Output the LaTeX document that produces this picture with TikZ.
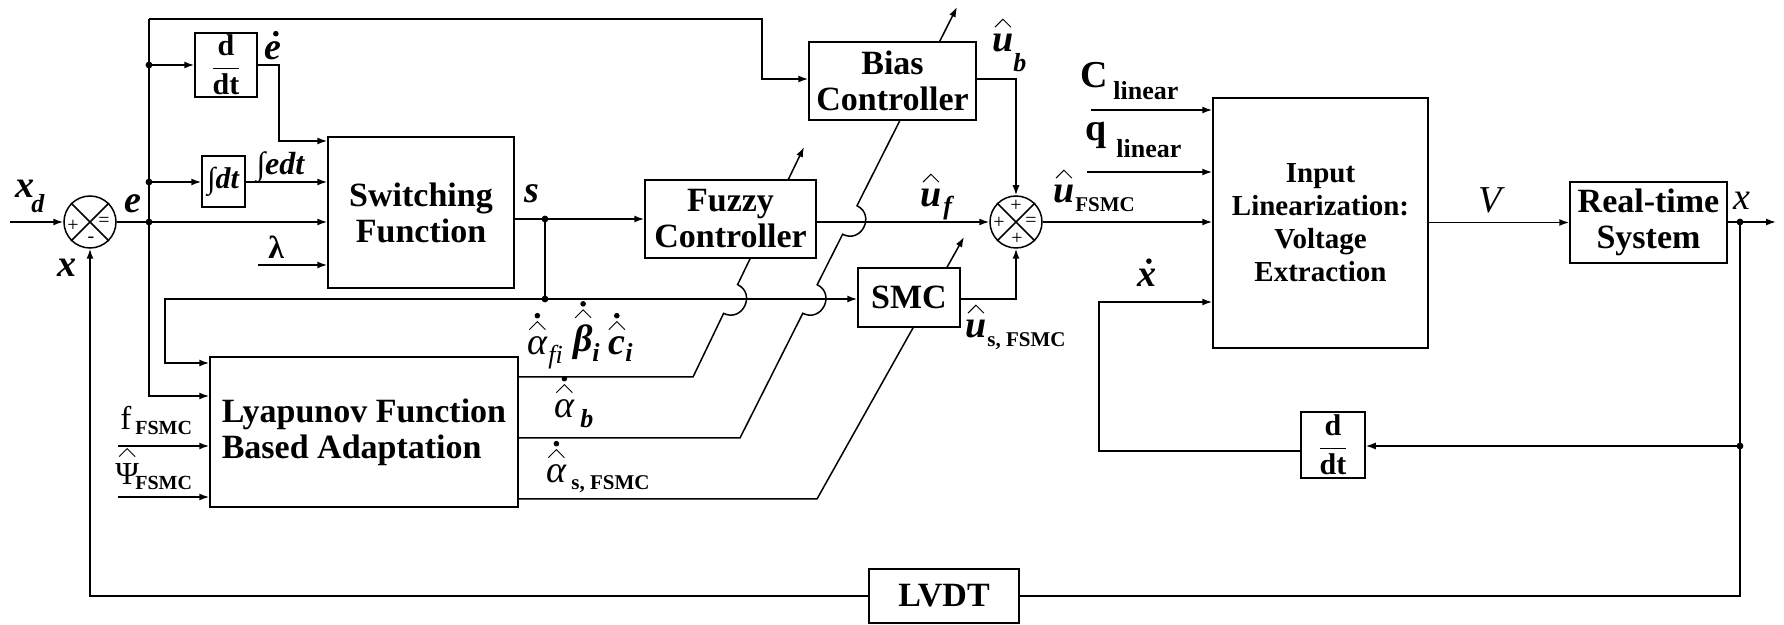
\documentclass[tikz,border=0pt]{standalone}
\usepackage{fontspec}
\setmainfont{Liberation Serif}
\usetikzlibrary{arrows.meta,calc}
\pgfdeclarelayer{bg}\pgfsetlayers{bg,main}
\newcommand\bxf{\fontsize{17}{18}\selectfont\bfseries}
\newcommand\ilf{\fontsize{14.5}{16.5}\selectfont\bfseries}
\newcommand\labf{\fontsize{19}{20}\selectfont\bfseries\itshape}
\newcommand\subf{\fontsize{13}{14}\selectfont\bfseries\itshape}
\newcommand\fsf{\fontsize{10.5}{12}\selectfont\bfseries}
\newcommand\hatnode[1]{\draw[hatst] ($(#1.north)+(-8,-7)$) -- ++(8,-8) -- ++(8,8);}
\newcommand\dotnode[2]{\fill ($(#1.north)+#2$) circle (1.4pt);}
\begin{document}
\begin{tikzpicture}[x=0.5pt,y=-0.5pt,line width=0.75pt,
  blk/.style={draw,fill=white,inner sep=0pt,align=center,font=\bxf},
  arr/.style={-{Latex[length=5pt,width=3.5pt]}},
  adap/.style={arr,line width=0.75pt},
  dotn/.style={circle,fill,inner sep=0pt,minimum size=3.4pt},
  sumc/.style={circle,draw,fill=white,inner sep=0pt,minimum size=26pt},
  sgn/.style={inner sep=0pt,font=\fontsize{10}{10}\selectfont},
  hatst/.style={line width=0.45pt},
  lbl/.style={inner sep=0pt,anchor=base west,font=\labf},
  lsub/.style={inner sep=0pt,anchor=base west,font=\subf},
  lfs/.style={inner sep=0pt,anchor=base west,font=\fsf}]
\useasboundingbox (0,0) rectangle (1784,625);
% blocks
\node[blk,minimum width=31pt,minimum height=32pt] (d1) at (226,65) {};
\node[inner sep=0pt,font=\fontsize{15}{16}\selectfont\bfseries] (d1t) at (d1.center) {$\displaystyle\frac{\hbox{d}}{\hbox{dt}}$};
\node[blk,minimum width=21.5pt,minimum height=25.5pt] (i1) at (223.5,181.5) {};
\node[inner sep=0pt,font=\fontsize{15}{16}\selectfont\bfseries] (i1t) at (i1.center) {∫\textit{dt}};
\node[blk,minimum width=93pt,minimum height=75.5pt] (sf) at (421,212.5) {Switching\\Function};
\node[blk,minimum width=85.5pt,minimum height=39pt] (fz) at (730.5,219) {Fuzzy\\Controller};
\node[blk,minimum width=83.5pt,minimum height=39pt] (bc) at (892.5,81) {Bias\\Controller};
\node[blk,minimum width=51pt,minimum height=29.5pt] (smc) at (909,297.5) {SMC};
\node[blk,minimum width=154pt,minimum height=75pt,align=left] (ly) at (364,432) {Lyapunov Function\\Based Adaptation};
\node[blk,minimum width=107.5pt,minimum height=125pt,font=\ilf] (il) at (1320.5,223) {Input\\Linearization:\\Voltage\\Extraction};
\node[blk,minimum width=78.5pt,minimum height=40.5pt] (rt) at (1648.5,222.5) {Real-time\\System};
\node[blk,minimum width=32pt,minimum height=33pt] (d2) at (1333,445) {};
\node[inner sep=0pt,font=\fontsize{15}{16}\selectfont\bfseries] (d2t) at (d2.center) {$\displaystyle\frac{\hbox{d}}{\hbox{dt}}$};
\node[blk,minimum width=75pt,minimum height=27pt] (lv) at (944,596) {LVDT};
% summing junctions
\node[sumc] (s1) at (90,222) {};
\draw (s1.north west) -- (s1.south east) (s1.north east) -- (s1.south west);
\node[sgn] (s1a) at (73,226) {+};
\node[sgn] (s1b) at (104,222) {=};
\node[sgn] (s1c) at (91,240) {-};
\node[sumc] (s2) at (1016,222) {};
\draw (s2.north west) -- (s2.south east) (s2.north east) -- (s2.south west);
\node[sgn] (s2a) at (1016,206) {+};
\node[sgn] (s2b) at (999,223) {+};
\node[sgn] (s2c) at (1031,222) {=};
\node[sgn] (s2d) at (1017,239) {+};
% coordinates
\coordinate (xin) at (10,222);
\coordinate (jE) at (149,222);
\coordinate (jTop) at (149,19);
\coordinate (jL) at (149,396);
\coordinate (cB) at (762,79);
\coordinate (jD) at (149,65);
\coordinate (jI) at (149,182);
\coordinate (cD) at (279,65);
\coordinate (cD2) at (279,141);
\coordinate (lam) at (258,265);
\coordinate (jS) at (545,219);
\coordinate (jS2) at (545,299);
\coordinate (cL) at (165,299);
\coordinate (cL2) at (165,363);
\coordinate (fin) at (118,446);
\coordinate (pin) at (118,497);
\coordinate (cC) at (1091,110);
\coordinate (cq) at (1087,172);
\coordinate (jX) at (1740,222);
\coordinate (xo) at (1776,222);
\coordinate (jX2) at (1740,446);
\coordinate (jX3) at (1740,596);
\coordinate (cx1) at (1099,451);
\coordinate (cx2) at (1099,302);
% connectors
\draw[arr] (xin) -- (s1.west);
\draw[arr] (s1.east) -- (s1.east -| sf.west);
\draw[arr] (jTop) -- (jL) -- (jL -| ly.west);
\draw[arr] (jTop) -| (cB) -- (cB -| bc.west);
\draw[arr] (jD) -- (jD -| d1.west);
\draw[arr] (jI) -- (jI -| i1.west);
\draw[arr] (d1.east |- jD) -- (cD) -- (cD2) -- (cD2 -| sf.west);
\draw[arr] (i1.east |- jI) -- (jI -| sf.west);
\draw[arr] (lam) -- (lam -| sf.west);
\draw[arr] (sf.east |- jS) -- (jS -| fz.west);
\draw (jS) -- (jS2);
\draw[arr] (jS2) -- (jS2 -| smc.west);
\draw[arr] (jS2) -- (cL) -- (cL2) -- (cL2 -| ly.west);
\draw[arr] (fin) -- (fin -| ly.west);
\draw[arr] (pin) -- (pin -| ly.west);
\draw[arr] (bc.east |- cB) -| (s2.north);
\draw[arr] (fz.east |- s2.west) -- (s2.west);
\draw[arr] (smc.east |- jS2) -| (s2.south);
\draw[arr] (s2.east) -- (s2.east -| il.west);
\draw[arr] (cC) -- (cC -| il.west);
\draw[arr] (cq) -- (cq -| il.west);
\draw[arr] (il.east |- rt.west) -- (rt.west);
\draw[arr] (rt.east |- jX) -- (xo);
\draw (jX) -- (jX3) -- (jX3 -| lv.east);
\draw[arr] (jX3 -| lv.west) -| (s1.south);
\draw[arr] (jX2) -- (jX2 -| d2.east);
\draw[arr] (d2.west |- cx1) -- (cx1) -- (cx2) -- (cx2 -| il.west);
% adaptation arrows (behind blocks)
\coordinate (a1) at (693,377);
\coordinate (t1) at (804,147);
\coordinate (a2) at (740,438);
\coordinate (t2) at (957,7);
\coordinate (a3) at (817,499);
\coordinate (t3) at (964,237);
\begin{pgfonlayer}{bg}
\draw[adap] (ly.east |- a1) -- (a1) -- (723.6,313.4) .. controls (742.5,322.5) and (756.5,293.7) .. (737.6,284.6) -- (t1);
\draw[adap] (ly.east |- a2) -- (a2) -- (802.8,313.3) .. controls (821.6,322.8) and (836,294.2) .. (817.2,284.7) -- (842.6,234.3) .. controls (861.4,243.8) and (875.8,215.2) .. (857,205.7) -- (t2);
\draw[adap] (ly.east |- a3) -- (a3) -- (t3);
\end{pgfonlayer}
% junction dots
\foreach \p in {jE,jD,jI,jS,jS2,jX,jX2} \node[dotn] at (\p) {};
% labels
\node[lbl] (lxd) at (15,198) {x};
\node[lsub] (lxds) at (31,213) {d};
\node[lbl] (le) at (124,213) {e};
\node[lbl] (lx) at (57,277) {x};
\node[lbl] (led) at (264,60) {e};
\dotnode{led}{(3,-8)}
\node[lbl,font=\fontsize{16}{17}\selectfont\bfseries\itshape] (lint) at (256,175) {∫edt};
\node[lbl,font=\fontsize{16}{17}\selectfont\bfseries] (llam) at (268,259) {λ};
\node[lbl] (ls) at (524,203) {s};
\node[lbl] (lub) at (992,52) {u};
\hatnode{lub}
\node[lsub] (lubs) at (1013,72) {b};
\node[lbl] (luf) at (920,207) {u};
\hatnode{luf}
\node[lsub] (lufs) at (943,215) {f};
\node[lbl] (luF) at (1053,203) {u};
\hatnode{luF}
\node[lfs] (luFs) at (1075,212) {FSMC};
\node[lbl] (lus) at (965,338) {u};
\hatnode{lus}
\node[lfs] (luss) at (987,347) {s, FSMC};
\node[lbl,font=\fontsize{19}{20}\selectfont\itshape] (lafi) at (527,355) {α};
\hatnode{lafi}\dotnode{lafi}{(0,-21)}
\node[lsub,font=\fontsize{13}{14}\selectfont\itshape] (lafis) at (548,364) {fi};
\node[lbl] (lbi) at (573,352) {β};
\hatnode{lbi}\dotnode{lbi}{(0,-21)}
\node[lsub] (lbis) at (592,362) {i};
\node[lbl] (lci) at (608,355) {c};
\hatnode{lci}\dotnode{lci}{(0,-21)}
\node[lsub] (lcis) at (625,362) {i};
\node[lbl,font=\fontsize{19}{20}\selectfont\itshape] (lalb) at (554,418) {α};
\hatnode{lalb}\dotnode{lalb}{(0,-21)}
\node[lsub] (lalbs) at (580,428) {b};
\node[lbl,font=\fontsize{19}{20}\selectfont\itshape] (las) at (546,483) {α};
\hatnode{las}\dotnode{las}{(0,-21)}
\node[lfs] (lass) at (571,490) {s, FSMC};
\node[lbl,font=\fontsize{16.5}{17}\selectfont] (lf) at (120,430) {f};
\node[lfs,font=\fontsize{10}{11}\selectfont\bfseries] (lfs1) at (135,435) {FSMC};
\node[lbl,font=\fontsize{16}{17}\selectfont] (lpsi) at (115,485) {Ψ};
\hatnode{lpsi}
\node[lfs,font=\fontsize{10}{11}\selectfont\bfseries] (lpsis) at (135,490) {FSMC};
\node[lbl,font=\fontsize{19}{20}\selectfont\bfseries] (lC) at (1080,88) {C};
\node[lsub,font=\fontsize{13}{14}\selectfont\bfseries] (lCs) at (1113,100) {linear};
\node[lbl,font=\fontsize{19}{20}\selectfont\bfseries] (lq) at (1085,141) {q};
\node[lsub,font=\fontsize{13}{14}\selectfont\bfseries] (lqs) at (1116,158) {linear};
\node[lbl] (lxdot) at (1137,287) {x};
\dotnode{lxdot}{(2,-8)}
\node[lbl,font=\fontsize{19}{20}\selectfont\itshape] (lV) at (1478,213) {V};
\node[lbl,font=\fontsize{19}{20}\selectfont\itshape] (lxo) at (1733,210) {x};
\end{tikzpicture}
\end{document}
